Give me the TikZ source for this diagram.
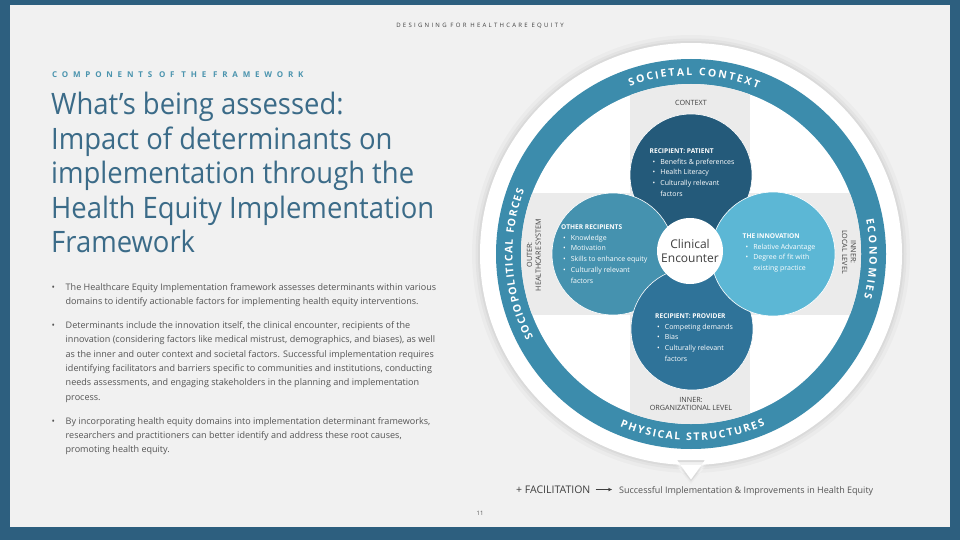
\documentclass[tikz,border=0pt]{standalone}
\usepackage{fontspec}
\setmainfont{Open Sans}
\usetikzlibrary{decorations.text}
\usetikzlibrary{arrows.meta}
\definecolor{framebg}{HTML}{2D5F7F}
\definecolor{slidebg}{HTML}{F1F1F1}
\definecolor{titleblue}{HTML}{3B6B88}
\definecolor{kickerblue}{HTML}{4B94AE}
\definecolor{bodygray}{HTML}{555555}
\definecolor{darkgray}{HTML}{3F3F3F}
\definecolor{ringblue}{HTML}{3C8CAC}
\definecolor{stripgray}{HTML}{EBEBEB}
\definecolor{patientblue}{HTML}{245A7A}
\definecolor{othersblue}{HTML}{4592AF}
\definecolor{providerblue}{HTML}{2F7399}
\definecolor{innovblue}{HTML}{5CB7D5}
\newcommand{\petalfont}{\fontsize{7}{10.8}\selectfont}
\newcommand{\ringfont}{\fontsize{10.5}{10.5}\selectfont\bfseries\color{white}}
\newcommand{\petalhead}[1]{\multicolumn{2}{@{}l@{}}{\fontsize{6.6}{10.8}\selectfont\textbf{#1}}}
\tikzset{petal/.style={circle,fill=#1,draw=white,line width=0.6pt,minimum size=122pt,inner sep=0pt},petal/.default=ringblue}
\tikzset{petaltext/.style={text=white,inner sep=0pt,anchor=base west,font=\petalfont}}
\tikzset{levellabel/.style={text=#1,inner sep=0pt,align=center,font=\fontsize{7.2}{8.8}\selectfont},levellabel/.default=darkgray}
\tikzset{bodytext/.style={text=bodygray,inner sep=0pt,anchor=base west,font=\fontsize{9.05}{14.35}\selectfont}}
\tikzset{ringlabel/.style={decorate,decoration={text along path,text={|\ringfont|#1},text align=fit to path}}}

\begin{document}
\begin{tikzpicture}[x=1pt,y=-1pt]
	\useasboundingbox (0,0) rectangle (960,540);
	\fill[framebg] (0,0) rectangle (960,540);
	\fill[slidebg] (10,5) rectangle (950,527);

	\node[inner sep=0pt,text=darkgray,font=\fontsize{6}{6}\selectfont\addfontfeatures{LetterSpace=38}] (header) at (480,25.5) {DESIGNING FOR HEALTHCARE EQUITY};

	% left column
	\node[inner sep=0pt,anchor=base west,text=kickerblue,font=\fontsize{8}{8}\selectfont\bfseries\addfontfeatures{LetterSpace=60}] (kicker) at (52,77.3) {COMPONENTS OF THE FRAMEWORK};
	\node[inner sep=0pt,anchor=base west,text=titleblue,font=\fontsize{29.5}{34.5}\selectfont\addfontfeatures{FakeStretch=0.93}] (title) at (51,115) {%
		\begin{tabular}[t]{@{}l@{}}
			What’s being assessed:\\
			Impact of determinants on\\
			implementation through the\\
			Health Equity Implementation\\
			Framework
		\end{tabular}};
	\node[bodytext] (paraone) at (51.5,290) {%
		\begin{tabular}[t]{@{}p{14pt}@{}l@{}}
			\textbullet & The Healthcare Equity Implementation framework assesses determinants within various\\
			& domains to identify actionable factors for implementing health equity interventions.
		\end{tabular}};
	\node[bodytext] (paratwo) at (51.5,328.3) {%
		\begin{tabular}[t]{@{}p{14pt}@{}l@{}}
			\textbullet & Determinants include the innovation itself, the clinical encounter, recipients of the\\
			& innovation (considering factors like medical mistrust, demographics, and biases), as well\\
			& as the inner and outer context and societal factors. Successful implementation requires\\
			& identifying facilitators and barriers specific to communities and institutions, conducting\\
			& needs assessments, and engaging stakeholders in the planning and implementation\\
			& process.
		\end{tabular}};
	\node[bodytext] (parathree) at (51.5,424) {%
		\begin{tabular}[t]{@{}p{14pt}@{}l@{}}
			\textbullet & By incorporating health equity domains into implementation determinant frameworks,\\
			& researchers and practitioners can better identify and address these root causes,\\
			& promoting health equity.
		\end{tabular}};

	% framework wheel
	\coordinate (hub) at (691,254);
	\fill[black,opacity=0.025] (hub) circle (219) (673,462) -- (691,484) -- (709,462) -- cycle;
	\fill[black,opacity=0.03] (hub) circle (215.5) (675,462) -- (691,482) -- (707,462) -- cycle;
	\fill[black,opacity=0.04] (hub) circle (213) (676,462) -- (691,481) -- (706,462) -- cycle;
	\fill[white] (hub) circle (211) (677,460) -- (691,479.5) -- (705,460) -- cycle;
	\fill[ringblue] (hub) circle (195);
	\fill[white] (hub) circle (170);
	\begin{scope}
		\clip (hub) circle (170);
		\fill[stripgray] (630,0) rectangle (750,540);
		\fill[stripgray] (0,193) rectangle (960,315);
	\end{scope}

	\begin{scope}[shift={(691,254)}]
		\path[ringlabel={SOCIETAL CONTEXT}] (-110:178.5) arc[start angle=-110,end angle=-68,radius=178.5];
		\path[ringlabel={SOCIOPOLITICAL FORCES}] (-208:178.5) arc[start angle=-208,end angle=-159,radius=178.5];
		\path[ringlabel={ECONOMIES}] (-11.3:178.5) arc[start angle=-11.3,end angle=14.3,radius=178.5];
		\path[ringlabel={PHYSICAL STRUCTURES}] (-247.6:186.5) arc[start angle=-247.6,end angle=-293.4,radius=186.5];
	\end{scope}

	\node[levellabel] (context) at (691,103) {CONTEXT};
	\node[levellabel,rotate=90] (outer) at (534,255) {OUTER:\\HEALTHCARE SYSTEM};
	\node[levellabel,rotate=-90] (local) at (849,252) {INNER:\\LOCAL LEVEL};
	\node[levellabel] (org) at (691,404) {INNER:\\ORGANIZATIONAL LEVEL};

	\node[petal=patientblue] (patient) at (691,175) {};
	\node[petal=othersblue] (others) at (613,254) {};
	\node[petal=providerblue] (provider) at (692,329) {};
	\node[petal=innovblue,minimum size=124pt] (innovation) at (773,254) {};
	\node[circle,fill=white,inner sep=0pt,minimum size=66pt,align=center,text=darkgray,font=\fontsize{12}{14.4}\selectfont] (encounter) at (690,251) {Clinical\\Encounter};

	\node[petaltext] (patienttxt) at (649.5,153.3) {%
		\begin{tabular}[t]{@{\hspace{3pt}}l@{\hspace{5pt}}l@{}}
			\petalhead{RECIPIENT: PATIENT}\\
			\textbullet & Benefits \& preferences\\
			\textbullet & Health Literacy\\
			\textbullet & Culturally relevant\\
			& factors
		\end{tabular}};
	\node[petaltext] (otherstxt) at (561,229.3) {%
		\begin{tabular}[t]{@{\hspace{2pt}}l@{\hspace{5pt}}l@{}}
			\petalhead{OTHER RECIPIENTS}\\
			\textbullet & Knowledge\\
			\textbullet & Motivation\\
			\textbullet & Skills to enhance equity\\
			\textbullet & Culturally relevant\\
			& factors
		\end{tabular}};
	\node[petaltext] (innovationtxt) at (742.5,238.3) {%
		\begin{tabular}[t]{@{\hspace{3pt}}l@{\hspace{5pt}}l@{}}
			\petalhead{THE INNOVATION}\\
			\textbullet & Relative Advantage\\
			\textbullet & Degree of fit with\\
			& existing practice
		\end{tabular}};
	\node[petaltext] (providertxt) at (655,318.3) {%
		\begin{tabular}[t]{@{\hspace{2pt}}l@{\hspace{5pt}}l@{}}
			\petalhead{RECIPIENT: PROVIDER}\\
			\textbullet & Competing demands\\
			\textbullet & Bias\\
			\textbullet & Culturally relevant\\
			& factors
		\end{tabular}};

	% outcome line
	\node[inner sep=0pt,anchor=base west,text=darkgray,font=\fontsize{10.5}{10.5}\selectfont] (facil) at (516,493.3) {+ FACILITATION};
	\node[inner sep=0pt,anchor=base west,text=bodygray,font=\fontsize{9}{9}\selectfont] (outcome) at (619,493.3) {Successful Implementation \& Improvements in Health Equity};
	\draw[-{Stealth[length=4pt,width=3.5pt]},line width=0.8pt,darkgray,shorten <=5pt,shorten >=7pt] (facil.east) -- (facil.east -| outcome.west);

	\node[inner sep=0pt,text=bodygray,font=\fontsize{6}{6}\selectfont] (pagenum) at (480,513) {11};
\end{tikzpicture}
\end{document}
